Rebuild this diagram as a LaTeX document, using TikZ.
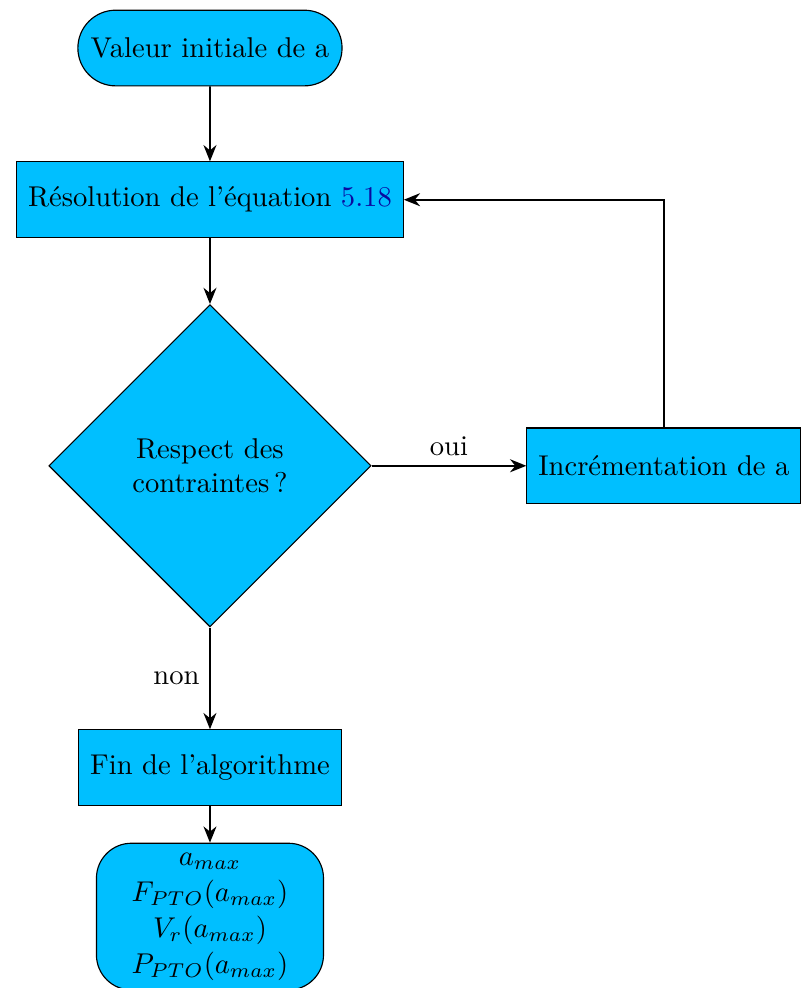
\documentclass[tikz,border=0pt]{standalone}
\usepackage{amsmath,amsfonts}
\usepackage{xcolor}
\usepackage{tikz}
\usetikzlibrary{arrows.meta,positioning,shapes.geometric,shapes.misc}
\definecolor{boxblue}{RGB}{0,191,255}
\definecolor{refblue}{RGB}{10,10,160}

\begin{document}
\begin{tikzpicture}[
  startstop/.style={draw, fill=boxblue, rounded rectangle, minimum height=0.93cm, inner xsep=4pt},
  process/.style={draw, fill=boxblue, rectangle, minimum height=0.93cm, inner xsep=4pt},
  decision/.style={draw, fill=boxblue, diamond, aspect=1, align=center,
    minimum width=3.96cm, minimum height=3.96cm},
  result/.style={draw, fill=boxblue, rounded corners=0.43cm, align=center,
    minimum width=2.79cm},
  arr/.style={-{Stealth[length=2mm,width=1.6mm]}, semithick}
]
  \useasboundingbox (0,0) rectangle (9.85,-12.14);
  \node[startstop] (init) at (2.58,-0.59) {Valeur initiale de a};
  \node[process, below=0.92cm of init] (resol) {R\'esolution de l'\'equation \textcolor{refblue}{5.18}};
  \node[decision, below=0.81cm of resol] (test) {Respect des\\contraintes\,?};
  \node[process, right=1.90cm of test] (incr) {Incr\'ementation de a};
  \node[process, below=1.25cm of test] (fin) {Fin de l'algorithme};
  \node[result, below=0.45cm of fin] (out) {%
    $a_{max}$\\[0.6pt]
    $F_{PTO}(a_{max})$\\[0.6pt]
    $V_r(a_{max})$\\[0.6pt]
    $P_{PTO}(a_{max})$};
  \draw[arr] (init) -- (resol);
  \draw[arr] (resol) -- (test);
  \draw[arr] (test) -- node[above] {oui} (incr);
  \draw[arr] (test) -- node[left] {non} (fin);
  \draw[arr] (fin) -- (out);
  \draw[arr] (incr.north) |- (resol.east);
\end{tikzpicture}
\end{document}
